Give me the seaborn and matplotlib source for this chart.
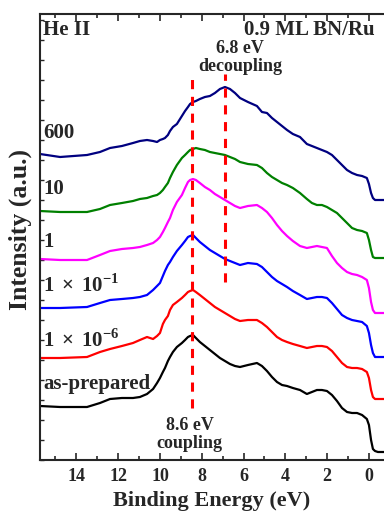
import numpy as np
import pandas as pd
import matplotlib
matplotlib.use("Agg")
import matplotlib.pyplot as plt
from matplotlib.ticker import MultipleLocator
import seaborn as sns

# Binding energy grid (eV)
energy = [15.74, 14.78, 13.49, 12.87, 12.39, 11.82, 11.29, 10.96, 10.62, 10.33,
          10.14, 10.00, 9.86, 9.76, 9.62, 9.52, 9.38, 9.19, 8.95, 8.80,
          8.66, 8.56, 8.42, 8.28, 8.09, 7.85, 7.61, 7.37, 7.13, 6.89,
          6.65, 6.41, 6.17, 5.79, 5.36, 5.12, 4.88, 4.64, 4.40, 4.16,
          3.92, 3.64, 3.30, 2.97, 2.73, 2.49, 2.25, 2.01, 1.77, 1.53,
          1.29, 1.05, 0.81, 0.57, 0.33, 0.10, 0.00, -0.10, -0.19, -0.29,
          -0.43, -0.72]

# Intensities (a.u., offset stacked)
as_prepared = [54, 53, 53, 57, 61, 62, 62, 63, 66, 71,
               77, 82, 88, 92, 99, 103, 108, 113, 117, 120,
               123, 124, 125, 122, 118, 114, 110, 106, 102, 99,
               96, 94, 93, 95, 97, 94, 89, 83, 78, 75,
               74, 72, 70, 66, 68, 70, 70, 69, 65, 59,
               52, 48, 47, 47, 45, 41, 35, 20, 11, 9,
               8, 8]
exp_1e_6 = [102, 102, 103, 108, 111, 114, 117, 120, 123, 121,
            124, 127, 136, 140, 144, 150, 155, 158, 162, 165,
            168, 169, 170, 168, 165, 161, 157, 153, 150, 147,
            144, 141, 139, 140, 140, 137, 133, 128, 123, 120,
            118, 116, 114, 112, 113, 114, 114, 113, 109, 103,
            97, 93, 92, 92, 91, 88, 82, 70, 63, 61,
            61, 61]
exp_1e_1 = [152, 152, 153, 157, 160, 161, 162, 163, 165, 170,
            174, 177, 184, 189, 195, 198, 203, 209, 215, 219,
            223, 224, 225, 222, 218, 214, 210, 207, 204, 201,
            199, 197, 195, 197, 196, 193, 188, 183, 179, 176,
            173, 169, 165, 161, 162, 163, 163, 162, 157, 151,
            145, 142, 140, 139, 138, 134, 127, 115, 107, 103,
            103, 103]
exp_1 = [201, 200, 200, 205, 209, 211, 212, 213, 215, 217,
         220, 223, 228, 232, 238, 242, 250, 258, 265, 272,
         278, 280, 281, 280, 277, 273, 270, 266, 263, 260,
         257, 254, 252, 254, 255, 252, 248, 242, 235, 229,
         224, 219, 214, 212, 213, 214, 213, 212, 204, 197,
         192, 188, 186, 185, 183, 180, 172, 158, 150, 147,
         147, 147]
exp_10 = [249, 248, 248, 251, 255, 257, 259, 261, 262, 264,
          265, 267, 270, 273, 277, 282, 288, 295, 302, 305,
          308, 310, 311, 312, 311, 310, 308, 307, 306, 305,
          303, 301, 298, 296, 295, 292, 287, 283, 280, 277,
          275, 272, 267, 261, 257, 255, 255, 253, 250, 247,
          242, 237, 232, 230, 229, 227, 220, 210, 203, 202,
          202, 202]
exp_600 = [306, 303, 305, 308, 312, 314, 317, 319, 320, 319,
           318, 320, 321, 322, 325, 329, 333, 336, 344, 349,
           353, 356, 358, 359, 361, 363, 364, 367, 371, 373,
           371, 367, 362, 358, 354, 348, 347, 342, 338, 334,
           330, 326, 323, 316, 314, 312, 310, 308, 305, 300,
           295, 290, 287, 285, 284, 282, 276, 267, 262, 260,
           260, 260]

series_names = ["as-prepared", "1e-6", "1e-1", "1", "10", "600"]
series_values = [as_prepared, exp_1e_6, exp_1e_1, exp_1, exp_10, exp_600]
series_colors = ["black", "red", "blue", "magenta", "green", "navy"]

coupling_energy = 8.45
decoupling_energy = 6.9

rows = []
for name, vals in zip(series_names, series_values):
    for e, v in zip(energy, vals):
        rows.append({"energy": e, "intensity": v, "series": name})
df = pd.DataFrame(rows)

sns.set_style("ticks")
plt.rcParams['font.family'] = ['Liberation Serif', 'DejaVu Serif']
plt.rcParams['font.weight'] = 'bold'
plt.rcParams['mathtext.fontset'] = 'custom'
plt.rcParams['mathtext.rm'] = 'Liberation Serif:bold'
plt.rcParams['mathtext.bf'] = 'Liberation Serif:bold'

fig = plt.figure(figsize=(3.84, 5.18), dpi=100)
ax = fig.add_axes([40/384, 58/518, 1 - 40/384, 446/518])

sns.lineplot(data=df, x="energy", y="intensity", hue="series",
             palette=dict(zip(series_names, series_colors)),
             hue_order=series_names, sort=False, estimator=None,
             linewidth=1.6, legend=False, ax=ax)
for line in ax.lines:
    line.set_solid_joinstyle("round")

ax.set_xlim(15.74, -0.72)
ax.set_ylim(0, 446)

ax.vlines(coupling_energy, 52, 384, colors="red", linestyles=(0, (3, 2.5)), linewidth=2.2)
ax.vlines(decoupling_energy, 178, 386, colors="red", linestyles=(0, (3, 2.5)), linewidth=2.2)

ax.xaxis.set_major_locator(MultipleLocator(2))
ax.xaxis.set_minor_locator(MultipleLocator(1))
ax.yaxis.set_major_locator(MultipleLocator(20))
ax.tick_params(axis="x", which="major", direction="out", length=5, width=1.2,
               labelsize=13, pad=6)
ax.tick_params(axis="x", which="minor", direction="out", length=3, width=1.2)
ax.tick_params(axis="y", which="major", direction="in", length=3, width=1,
               labelleft=False)
ax.tick_params(top=True, which="both", direction="in")
for lab in ax.get_xticklabels():
    lab.set_fontweight("bold")

for s in ["left", "bottom", "top"]:
    ax.spines[s].set_linewidth(1.5)
ax.spines["right"].set_visible(False)

ax.set_xlabel("Binding Energy (eV)", fontsize=16, fontweight="bold", labelpad=4)
ax.set_ylabel("Intensity (a.u.)", fontsize=18.5, fontweight="bold")
ax.yaxis.set_label_coords(-0.022, 0.516)

tkw = dict(fontweight="bold", transform=ax.transData)
ax.text(15.6, 440, "He II", fontsize=15, va="top", ha="left", **tkw)
ax.text(-0.25, 440, "0.9 ML BN/Ru", fontsize=15, va="top", ha="right", **tkw)
ax.text(6.15, 420, "6.8 eV", fontsize=13, va="top", ha="center", **tkw)
ax.text(6.15, 402, "decoupling", fontsize=13, va="top", ha="center", **tkw)
ax.text(8.57, 43, "8.6 eV", fontsize=13, va="top", ha="center", **tkw)
ax.text(8.57, 25, "coupling", fontsize=13, va="top", ha="center", **tkw)

lbl_kw = dict(fontsize=15, va="baseline", ha="left", fontweight="bold")
ax.text(15.6, 322, "600", **lbl_kw)
ax.text(15.6, 266, "10", **lbl_kw)
ax.text(15.6, 213, "1", **lbl_kw)
ax.text(15.6, 168, r"1$\,\times\,$10$^{-1}$", **lbl_kw)
ax.text(15.6, 113, r"1$\,\times\,$10$^{-6}$", **lbl_kw)
ax.text(15.6, 71, "as-prepared", **lbl_kw)

fig.savefig("out.png", dpi=100)
